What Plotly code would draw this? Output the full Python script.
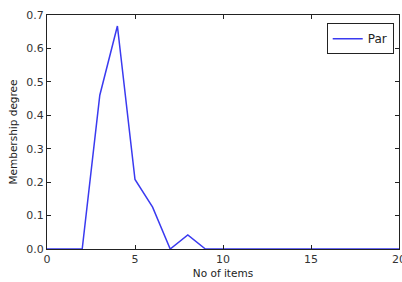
import plotly.graph_objects as go

x_items = list(range(0, 21))
membership = [0, 0, 0, 0.46, 0.667, 0.208, 0.125, 0, 0.042, 0,
              0, 0, 0, 0, 0, 0, 0, 0, 0, 0, 0]
x_ticks = [0, 5, 10, 15, 20]
y_ticks = [0.0, 0.1, 0.2, 0.3, 0.4, 0.5, 0.6, 0.7]
y_tick_labels = ["0.0", "0.1", "0.2", "0.3", "0.4", "0.5", "0.6", "0.7"]

fig = go.Figure()
fig.add_trace(go.Scatter(x=x_items, y=membership, mode="lines", name="Par",
                         line=dict(color="#3a3af0", width=1.5)))

axis_common = dict(showgrid=False, zeroline=False, showline=True, linecolor="#222",
                   linewidth=1, mirror="ticks", ticks="inside", ticklen=4,
                   tickcolor="#222", automargin=False,
                   ticklabeloverflow="allow",
                   tickfont=dict(family="DejaVu Sans", size=11, color="#333"))

fig.update_layout(
    width=402, height=282,
    margin=dict(l=47, r=3, t=15, b=33),
    paper_bgcolor="white", plot_bgcolor="white",
    showlegend=True,
    legend=dict(x=0.985, y=0.965, xanchor="right", yanchor="top",
                bordercolor="#222", borderwidth=1, bgcolor="white",
                font=dict(family="DejaVu Sans", size=12, color="#222")),
    xaxis=dict(range=[0, 20], tickvals=x_ticks,
               title=dict(text="No of items", standoff=4,
                          font=dict(family="DejaVu Sans", size=10.5, color="#222")),
               **axis_common),
    yaxis=dict(range=[0, 0.7], tickvals=y_ticks, ticktext=y_tick_labels,
               title=dict(text="Membership degree", standoff=6,
                          font=dict(family="DejaVu Sans", size=10.5, color="#222")),
               **axis_common),
)

fig.write_html("out.html", config={"displayModeBar": False},
               post_script="document.body.style.margin='0';document.body.style.padding='0';")
